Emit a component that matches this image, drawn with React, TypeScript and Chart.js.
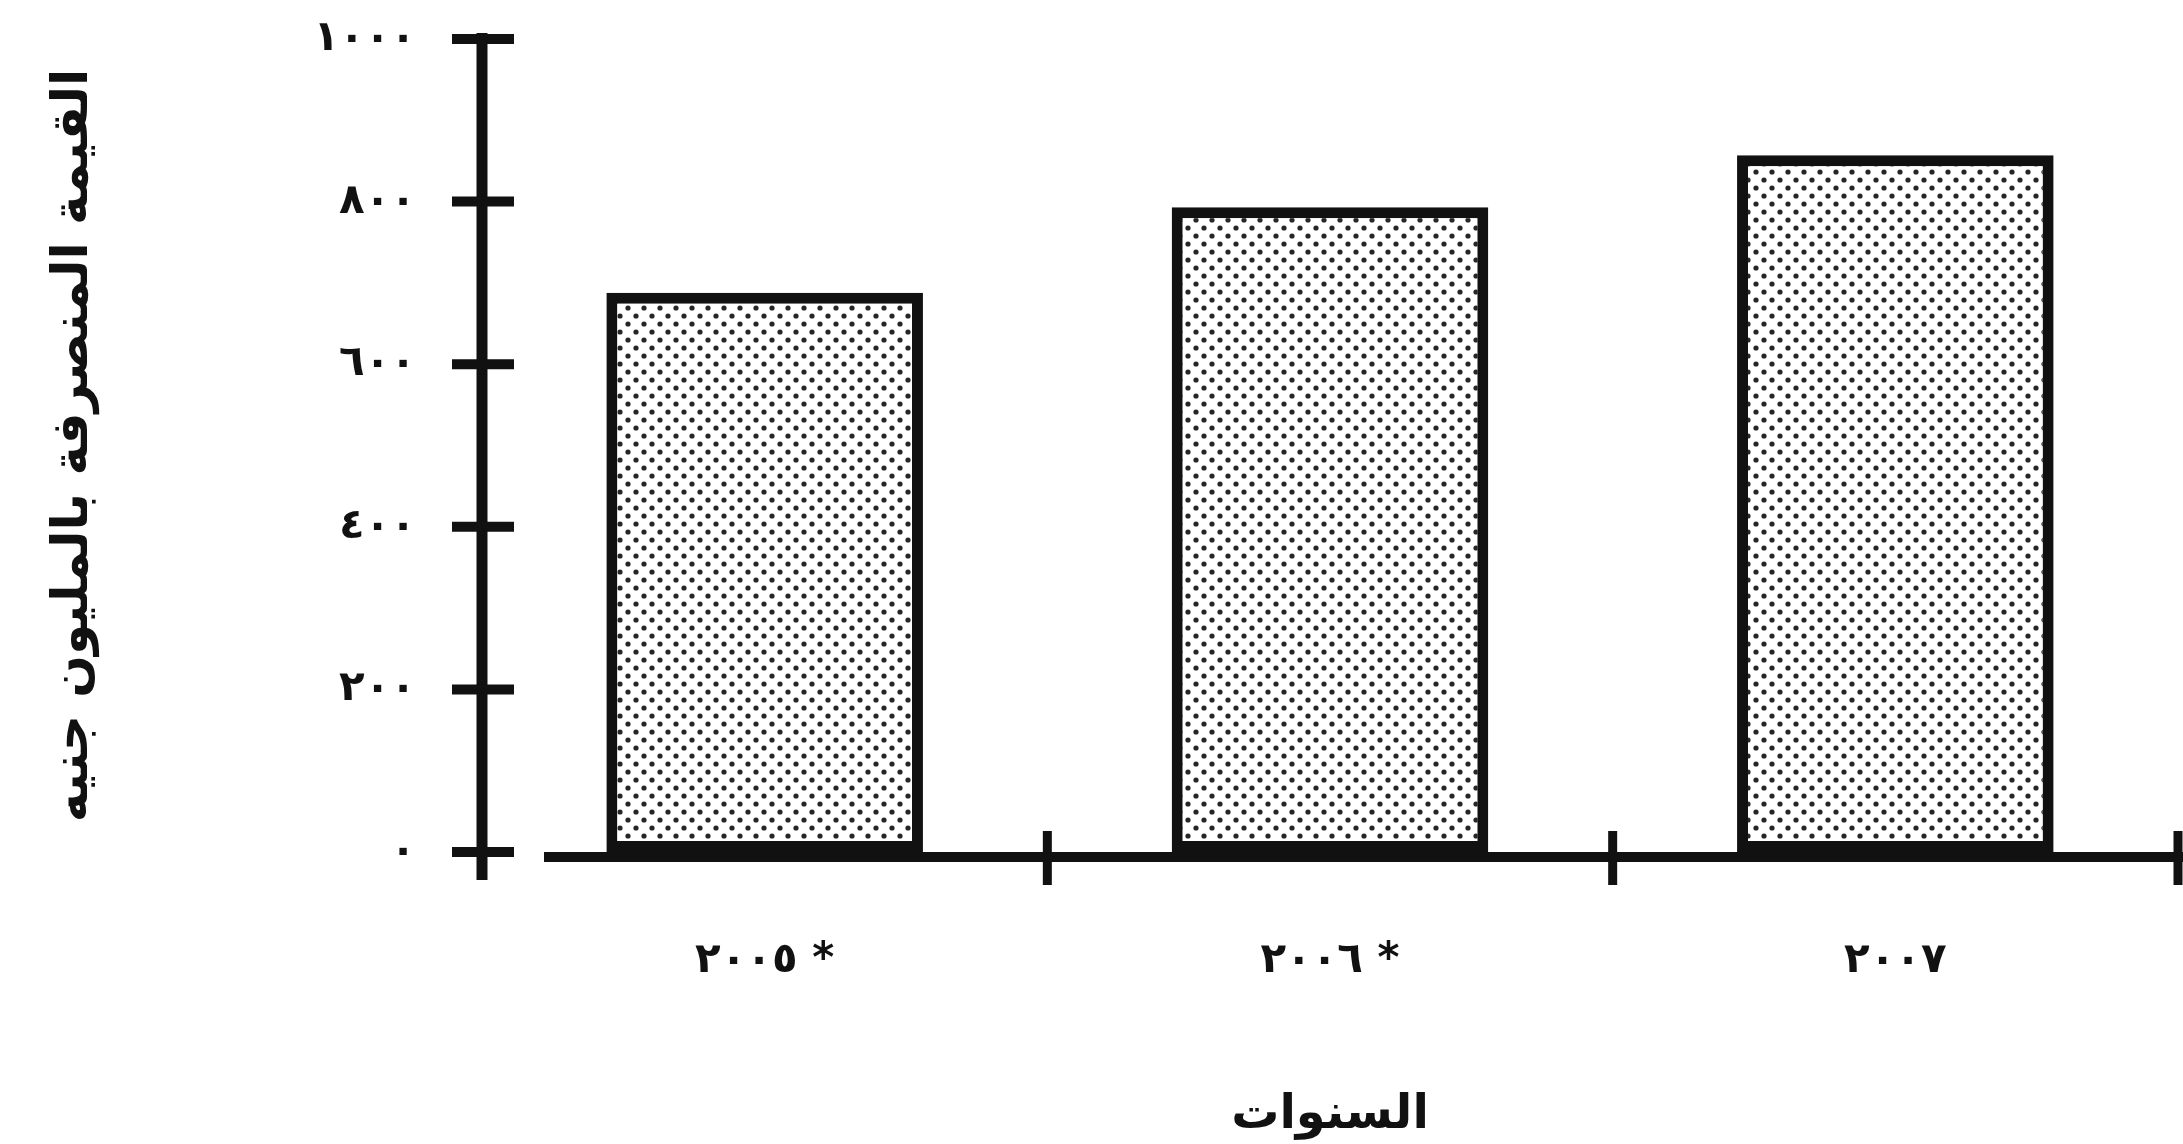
import React, { useEffect, useRef } from "react";
import { Chart, registerables } from "chart.js";

Chart.register(...registerables);

const categories = ["٢٠٠٥ *", "٢٠٠٦ *", "٢٠٠٧"];
const values = [688, 793, 857];
const yTickValues = [0, 200, 400, 600, 800, 1000];
const yTickLabels = ["٠", "٢٠٠", "٤٠٠", "٦٠٠", "٨٠٠", "١٠٠٠"];
const yTitle = "القيمة المنصرفة بالمليون جنيه";
const xTitle = "السنوات";

const INK = "#111111";
const FONT = "'DejaVu Sans', 'Noto Sans', sans-serif";

function makePattern(): CanvasPattern | string {
  const c = document.createElement("canvas");
  c.width = 16;
  c.height = 16;
  const g = c.getContext("2d");
  if (!g) return "#dddddd";
  g.fillStyle = "#ffffff";
  g.fillRect(0, 0, 16, 16);
  g.fillStyle = "#262626";
  const dots = [
    [4, 4],
    [12, 12],
  ];
  for (const [x, y] of dots) {
    g.beginPath();
    g.arc(x, y, 2.6, 0, Math.PI * 2);
    g.fill();
  }
  const p = g.createPattern(c, "repeat");
  return p || "#dddddd";
}

const axesPlugin = {
  id: "handAxes",
  afterDraw(chart: any) {
    const { ctx } = chart;
    const y = chart.scales.y;
    const x = chart.scales.x;
    const ax = chart.chartArea.left;
    const y0 = y.getPixelForValue(0);
    const yTop = y.getPixelForValue(1000);
    ctx.save();
    ctx.strokeStyle = INK;
    ctx.lineCap = "butt";
    ctx.lineWidth = 11;
    ctx.beginPath();
    ctx.moveTo(ax, yTop - 6);
    ctx.lineTo(ax, y0 + 28);
    ctx.stroke();
    ctx.lineWidth = 10;
    for (const v of yTickValues) {
      const py = y.getPixelForValue(v);
      ctx.beginPath();
      ctx.moveTo(ax - 30, py);
      ctx.lineTo(ax + 32, py);
      ctx.stroke();
    }
    const step = x.getPixelForValue(1) - x.getPixelForValue(0);
    const xStart = ax + 62;
    const xEnd = chart.chartArea.right + 5;
    const yLine = y0 + 5;
    ctx.lineWidth = 10;
    ctx.beginPath();
    ctx.moveTo(xStart, yLine);
    ctx.lineTo(xEnd, yLine);
    ctx.stroke();
    ctx.lineWidth = 9;
    for (let i = 0; i < categories.length; i++) {
      const bx = x.getPixelForValue(i) + step / 2;
      ctx.beginPath();
      ctx.moveTo(bx, yLine - 26);
      ctx.lineTo(bx, yLine + 28);
      ctx.stroke();
    }
    ctx.restore();
  },
};

export default function App() {
  const ref = useRef<HTMLCanvasElement | null>(null);

  useEffect(() => {
    if (!ref.current) return;
    const pattern = makePattern();
    const chart = new Chart(ref.current, {
      type: "bar",
      data: {
        labels: categories,
        datasets: [
          {
            data: values,
            backgroundColor: pattern as any,
            borderColor: INK,
            borderWidth: 11,
            borderSkipped: false,
            categoryPercentage: 1,
            barPercentage: 0.56,
          },
        ],
      },
      options: {
        animation: false,
        responsive: false,
        maintainAspectRatio: false,
        devicePixelRatio: 1,
        layout: { padding: { left: 40, top: 39, right: 5, bottom: 0 } },
        plugins: {
          legend: { display: false },
          tooltip: { enabled: false },
        },
        scales: {
          x: {
            type: "category",
            offset: true,
            grid: { display: false, drawTicks: false },
            border: { display: false },
            ticks: {
              color: INK,
              padding: 84,
              font: { family: FONT, size: 42, weight: "bold" },
            },
            title: {
              display: true,
              text: xTitle,
              color: INK,
              padding: { top: 62, bottom: 0 },
              font: { family: FONT, size: 48, weight: "bold" },
            },
            afterFit: (s: any) => {
              s.height = 292;
              s.paddingLeft = 0;
              s.paddingRight = 0;
            },
          },
          y: {
            min: 0,
            max: 1000,
            grid: { display: false, drawTicks: false },
            border: { display: false },
            afterBuildTicks: (s: any) => {
              s.ticks = yTickValues.map((v) => ({ value: v }));
            },
            ticks: {
              color: INK,
              padding: 66,
              font: { family: FONT, size: 42, weight: "bold" },
              callback: (v: any) => {
                const i = yTickValues.indexOf(Number(v));
                return i >= 0 ? yTickLabels[i] : "";
              },
            },
            title: {
              display: true,
              text: yTitle,
              color: INK,
              padding: { top: 4, bottom: 0 },
              font: { family: FONT, size: 50, weight: "bold" },
            },
            afterFit: (s: any) => {
              s.width = 442;
              s.paddingTop = 0;
              s.paddingBottom = 0;
            },
          },
        },
      },
      plugins: [axesPlugin],
    });
    return () => chart.destroy();
  }, []);

  return (
    <div
      style={{
        position: "fixed",
        left: 0,
        top: 0,
        width: 2183,
        height: 1144,
        background: "#ffffff",
      }}
    >
      <canvas ref={ref} width={2183} height={1144} style={{ width: 2183, height: 1144, display: "block" }} />
    </div>
  );
}
